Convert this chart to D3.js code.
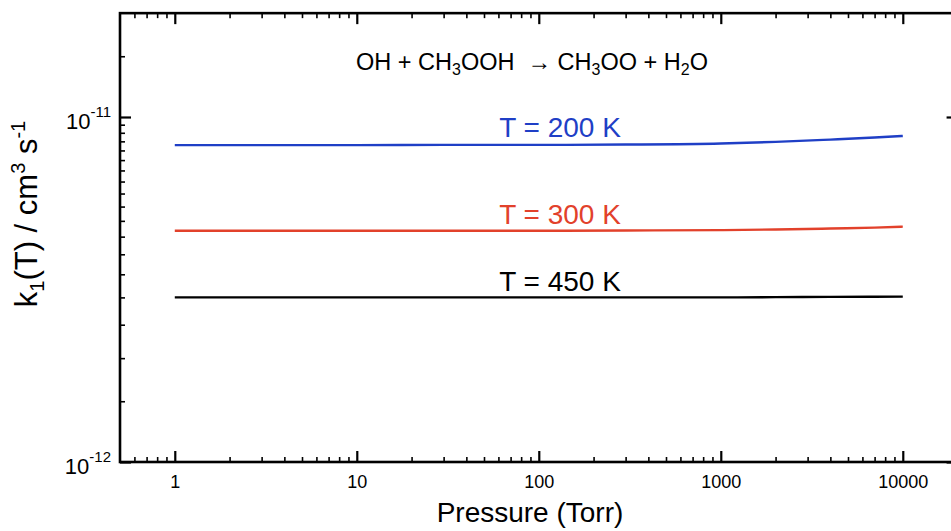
<!DOCTYPE html>
<html>
<head>
<meta charset="utf-8">
<script src="https://cdn.jsdelivr.net/npm/d3@7"></script>
<style>
  html, body { margin: 0; padding: 0; background: #fff; }
  svg { display: block; font-family: "Liberation Sans", Arial, Helvetica, sans-serif; }
</style>
</head>
<body>
<svg id="chart" width="951" height="531"></svg>
<script>
// Pressure grid (Torr) and rate coefficients k1(T) in cm^3 s^-1
const pressures = [1, 3, 10, 30, 100, 300, 1000, 2000, 4000, 7000, 10000];
const k200 = [8.29e-12, 8.29e-12, 8.29e-12, 8.30e-12, 8.30e-12, 8.32e-12, 8.38e-12, 8.47e-12, 8.60e-12, 8.72e-12, 8.81e-12];
const k300 = [4.68e-12, 4.68e-12, 4.68e-12, 4.68e-12, 4.68e-12, 4.69e-12, 4.70e-12, 4.72e-12, 4.75e-12, 4.78e-12, 4.81e-12];
const k450 = [3.00e-12, 3.00e-12, 3.00e-12, 3.00e-12, 3.00e-12, 3.00e-12, 3.00e-12, 3.005e-12, 3.01e-12, 3.012e-12, 3.015e-12];
const seriesNames = ["T = 200 K", "T = 300 K", "T = 450 K"];
const seriesColors = ["#1f3fc6", "#e2412b", "#000000"];

// Axis ticks
const xMajor = [1, 10, 100, 1000, 10000];
const xMajorLabels = ["1", "10", "100", "1000", "10000"];
const yMajor = [1e-12, 1e-11];
const yMajorExp = ["-12", "-11"];

const xDomain = [0.5, 20000];
const yDomain = [1e-12, 2e-11];

const svg = d3.select("#chart");
const left = 120, bottom = 462;
const x = d3.scaleLog().domain(xDomain).range([left, left + 182 * Math.log10(xDomain[1] / xDomain[0])]);
const y = d3.scaleLog().domain(yDomain).range([bottom, bottom - 345 * Math.log10(yDomain[1] / yDomain[0])]);
const [x0, x1] = x.range();
const [y0, y1] = y.range();

// Minor ticks: 2..9 per decade on x, every 0.5 unit per decade on y
const xMinor = [];
for (let e = -1; e <= 4; e++) {
  for (let m = 2; m <= 9; m++) {
    const v = m * Math.pow(10, e);
    if (v > xDomain[0] && v < xDomain[1] && !xMajor.includes(v)) xMinor.push(v);
  }
}
const yMinor = [];
for (let m = 1.5; m < 10; m += 0.5) yMinor.push(m * 1e-12);
yMinor.push(1.5e-11);

function styleAxis(g) {
  g.select(".domain").remove();
  g.attr("font-family", null).attr("font-size", null);
  g.selectAll(".tick line").attr("stroke", "#000").attr("stroke-width", 1.6);
}

// Bottom and top axes
svg.append("g").attr("transform", `translate(0,${y0})`)
  .call(d3.axisBottom(x).tickValues(xMinor).tickSizeInner(-5).tickSizeOuter(0).tickFormat(""))
  .call(styleAxis);
const xb = svg.append("g").attr("transform", `translate(0,${y0})`)
  .call(d3.axisBottom(x).tickValues(xMajor).tickSizeInner(-11).tickSizeOuter(0).tickPadding(13)
    .tickFormat((d, i) => xMajorLabels[i]))
  .call(styleAxis);
xb.selectAll(".tick line").attr("stroke-width", 2.2);
xb.selectAll(".tick text").style("font-size", "18px").attr("fill", "#000");

svg.append("g").attr("transform", `translate(0,${y1})`)
  .call(d3.axisTop(x).tickValues(xMinor).tickSizeInner(-5).tickSizeOuter(0).tickFormat(""))
  .call(styleAxis);
svg.append("g").attr("transform", `translate(0,${y1})`)
  .call(d3.axisTop(x).tickValues(xMajor).tickSizeInner(-11).tickSizeOuter(0).tickFormat(""))
  .call(styleAxis)
  .selectAll(".tick line").attr("stroke-width", 2.2);

// Left and right axes
svg.append("g").attr("transform", `translate(${x0},0)`)
  .call(d3.axisLeft(y).tickValues(yMinor).tickSizeInner(-5).tickSizeOuter(0).tickFormat(""))
  .call(styleAxis);
const yl = svg.append("g").attr("transform", `translate(${x0},0)`)
  .call(d3.axisLeft(y).tickValues(yMajor).tickSizeInner(-11).tickSizeOuter(0).tickPadding(9).tickFormat(""))
  .call(styleAxis);
yl.selectAll(".tick line").attr("stroke-width", 2.2);
yl.selectAll(".tick text")
  .style("font-size", "22px").attr("fill", "#000").attr("dy", "0.5em")
  .each(function (d, i) {
    const t = d3.select(this);
    t.append("tspan").text("10");
    t.append("tspan").style("font-size", "15px").attr("dy", "-0.8em").text(yMajorExp[i]);
  });

svg.append("g").attr("transform", `translate(${x1},0)`)
  .call(d3.axisRight(y).tickValues(yMinor).tickSizeInner(-5).tickSizeOuter(0).tickFormat(""))
  .call(styleAxis);
svg.append("g").attr("transform", `translate(${x1},0)`)
  .call(d3.axisRight(y).tickValues(yMajor).tickSizeInner(-11).tickSizeOuter(0).tickFormat(""))
  .call(styleAxis)
  .selectAll(".tick line").attr("stroke-width", 2.2);

// Plot frame
svg.append("rect")
  .attr("x", x0).attr("y", y1)
  .attr("width", x1 - x0).attr("height", y0 - y1)
  .attr("fill", "none").attr("stroke", "#000").attr("stroke-width", 2.6);

// Rate coefficient curves
const line = d3.line().x(d => x(d[0])).y(d => y(d[1])).curve(d3.curveMonotoneX);
[k200, k300, k450].forEach((vals, i) => {
  svg.append("path")
    .datum(pressures.map((p, j) => [p, vals[j]]))
    .attr("d", line)
    .attr("fill", "none")
    .attr("stroke", seriesColors[i])
    .attr("stroke-width", 2.4);
});

// Curve labels
const labelBaselines = [137, 224, 291];
seriesNames.forEach((name, i) => {
  svg.append("text")
    .attr("x", 560).attr("y", labelBaselines[i])
    .attr("text-anchor", "middle")
    .style("font-size", "28px")
    .attr("fill", seriesColors[i])
    .text(name);
});

// Reaction title
const title = svg.append("text")
  .attr("x", 532).attr("y", 70)
  .attr("text-anchor", "middle")
  .style("font-size", "23.5px")
  .attr("fill", "#000");
const sub = (t, s) => {
  t.append("tspan").style("font-size", "16px").attr("dy", 5).text(s);
};
title.append("tspan").text("OH + CH");
sub(title, "3");
title.append("tspan").attr("dy", -5).text("OOH\u00a0\u00a0\u2192 CH");
sub(title, "3");
title.append("tspan").attr("dy", -5).text("OO + H");
sub(title, "2");
title.append("tspan").attr("dy", -5).text("O");

// Axis titles
svg.append("text")
  .attr("x", 530).attr("y", 522)
  .attr("text-anchor", "middle")
  .style("font-size", "28px")
  .attr("fill", "#000")
  .text("Pressure (Torr)");

const yTitle = svg.append("text")
  .attr("transform", "translate(37,214) rotate(-90)")
  .attr("text-anchor", "middle")
  .style("font-size", "31px")
  .attr("fill", "#000");
yTitle.append("tspan").text("k");
yTitle.append("tspan").style("font-size", "20px").attr("dy", 7).text("1");
yTitle.append("tspan").attr("dy", -7).text("(T) / cm");
yTitle.append("tspan").style("font-size", "20px").attr("dy", -12).text("3");
yTitle.append("tspan").attr("dy", 12).text(" s");
yTitle.append("tspan").style("font-size", "20px").attr("dy", -12).text("-1");
</script>
</body>
</html>
